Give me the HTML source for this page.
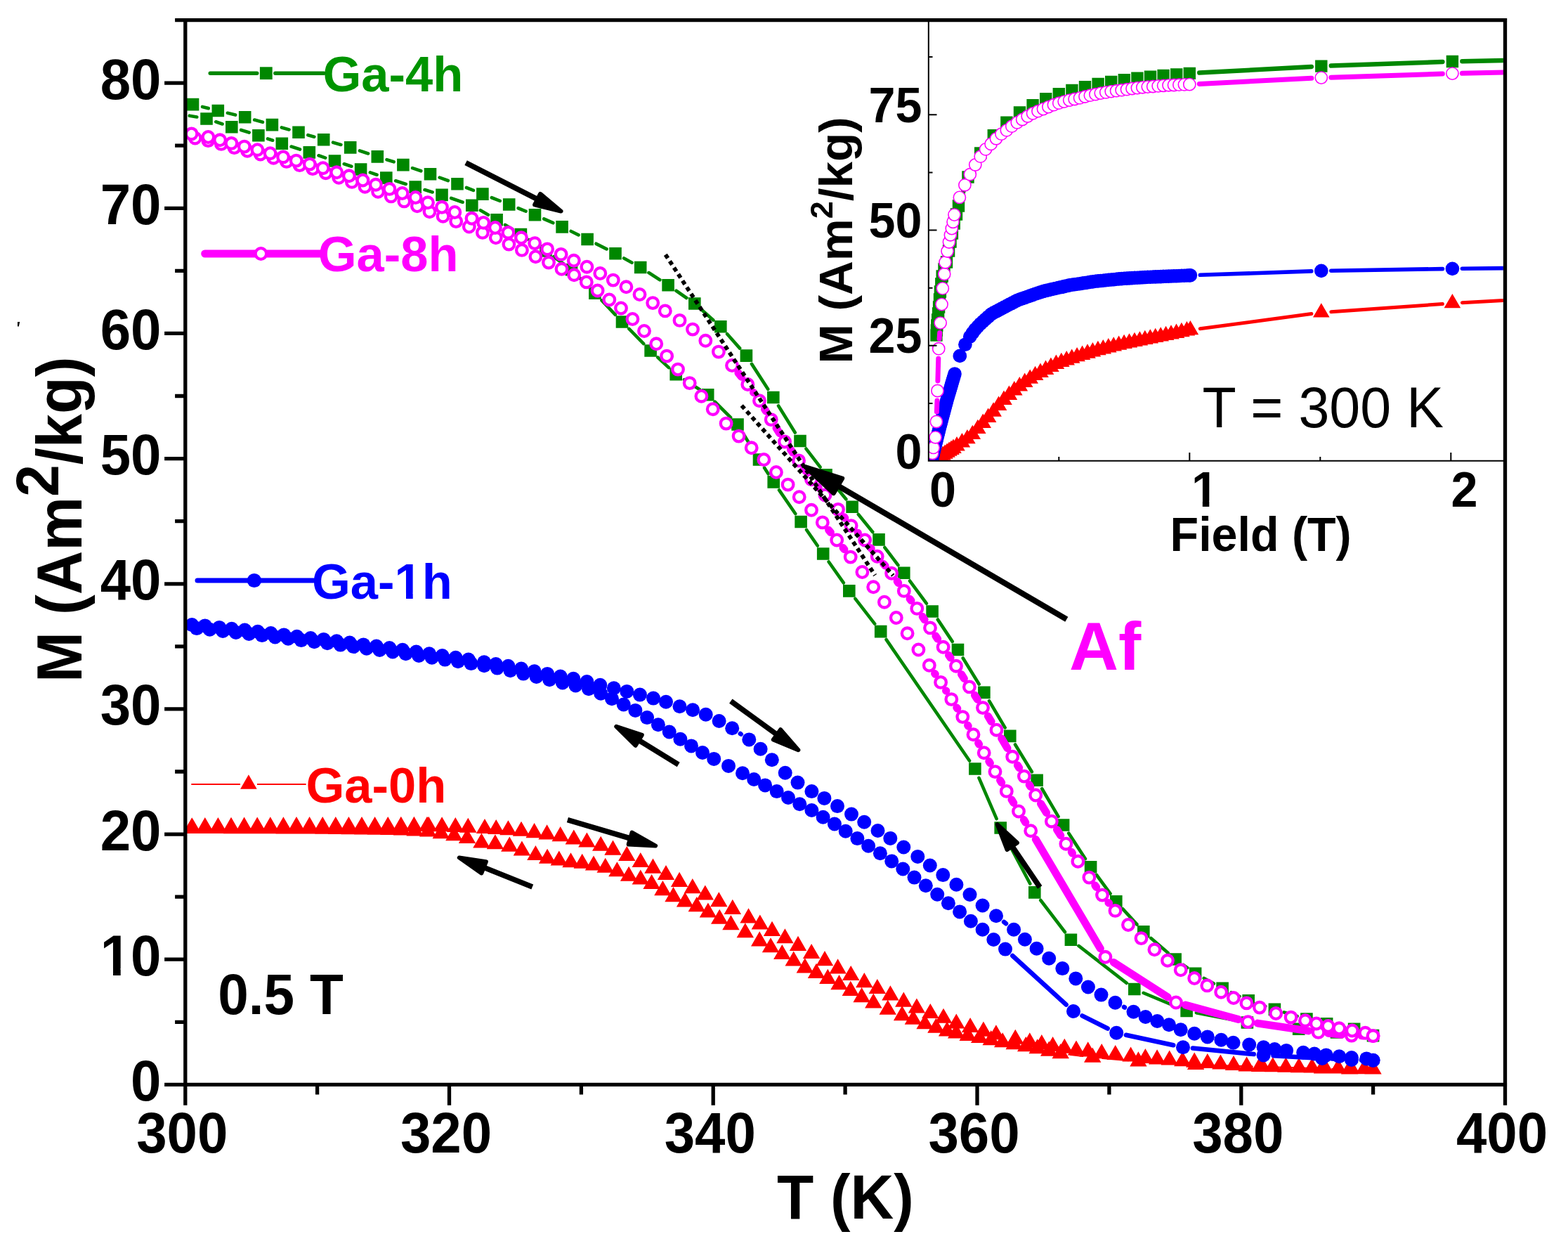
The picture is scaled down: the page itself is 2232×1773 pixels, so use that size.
<!DOCTYPE html>
<html><head><meta charset="utf-8"><title>M vs T</title><style>html,body{margin:0;padding:0;background:#fff;overflow:hidden}svg{display:block}</style></head><body>
<svg xmlns="http://www.w3.org/2000/svg" width="2232" height="1773" viewBox="0 0 2232 1773">
<rect width="2232" height="1773" fill="#fff"/>
<defs><clipPath id="cm"><rect x="263.8" y="28.7" width="1878.8" height="1514.7"/></clipPath><clipPath id="ci"><rect x="1321.3" y="31.3" width="818.6" height="624.4"/></clipPath></defs>
<g clip-path="url(#cm)">
<path d="M1940.5 1521.5L1935.1 1521.5M1907.1 1521.2L1896.1 1520.9M1868.1 1520.1L1810.8 1518.3M1782.8 1517.4L1716.1 1515.4M1688.1 1514.2L1634.4 1511.2M1606.5 1509.2L1569.1 1505.9M1541.3 1503L1523.6 1500.9" stroke="#ff0000" stroke-width="2" stroke-linecap="round" fill="none"/>
<path d="M273.2 1163.2l12.2 21.1h-24.4zM291.8 1163.1l12.2 21.1h-24.4zM310.4 1162.9l12.2 21.1h-24.4zM329 1162.8l12.2 21.1h-24.4zM347.6 1162.6l12.2 21.1h-24.4zM366.2 1162.5l12.2 21.1h-24.4zM384.8 1162.3l12.2 21.1h-24.4zM403.4 1162.2l12.2 21.1h-24.4zM422 1162.1l12.2 21.1h-24.4zM440.6 1162.1l12.2 21.1h-24.4zM459.2 1162l12.2 21.1h-24.4zM477.8 1162l12.2 21.1h-24.4zM496.4 1161.9l12.2 21.1h-24.4zM515 1161.9l12.2 21.1h-24.4zM533.6 1161.9l12.2 21.1h-24.4zM552.2 1161.9l12.2 21.1h-24.4zM570.8 1161.8l12.2 21.1h-24.4zM589.4 1161.8l12.2 21.1h-24.4zM608 1161.8l12.2 21.1h-24.4zM610.2 1161.8l12.2 21.1h-24.4zM629.1 1162.2l12.2 21.1h-24.4zM648.3 1162.9l12.2 21.1h-24.4zM666.3 1163.7l12.2 21.1h-24.4zM690 1165l12.2 21.1h-24.4zM706.2 1165.9l12.2 21.1h-24.4zM723.4 1167.2l12.2 21.1h-24.4zM742 1168.7l12.2 21.1h-24.4zM760.6 1171.1l12.2 21.1h-24.4zM778.6 1173.3l12.2 21.1h-24.4zM797.7 1176.1l12.2 21.1h-24.4zM816.8 1180.4l12.2 21.1h-24.4zM835.4 1184.5l12.2 21.1h-24.4zM855.2 1189.7l12.2 21.1h-24.4zM872.5 1195.6l12.2 21.1h-24.4zM892.3 1204l12.2 21.1h-24.4zM911.8 1212.9l12.2 21.1h-24.4zM929.5 1221.6l12.2 21.1h-24.4zM948 1230.9l12.2 21.1h-24.4zM967.1 1240.8l12.2 21.1h-24.4zM985.8 1250.1l12.2 21.1h-24.4zM1003.8 1259.4l12.2 21.1h-24.4zM1023.3 1269.2l12.2 21.1h-24.4zM1042.8 1279.8l12.2 21.1h-24.4zM1065.5 1292.3l12.2 21.1h-24.4zM1081.8 1301.5l12.2 21.1h-24.4zM1099 1310.8l12.2 21.1h-24.4zM1117.4 1321.2l12.2 21.1h-24.4zM1136 1331.8l12.2 21.1h-24.4zM1155.1 1342.9l12.2 21.1h-24.4zM1174 1353.1l12.2 21.1h-24.4zM1192.6 1364.3l12.2 21.1h-24.4zM1211.2 1373.9l12.2 21.1h-24.4zM1230.3 1384.1l12.2 21.1h-24.4zM1248.8 1393l12.2 21.1h-24.4zM1267.4 1402.3l12.2 21.1h-24.4zM1286.3 1411.6l12.2 21.1h-24.4zM1304.9 1420.4l12.2 21.1h-24.4zM1324.3 1427.9l12.2 21.1h-24.4zM1343 1434.7l12.2 21.1h-24.4zM1361.3 1442.4l12.2 21.1h-24.4zM1381.1 1448l12.2 21.1h-24.4zM1399.9 1453.6l12.2 21.1h-24.4zM1417.9 1458.2l12.2 21.1h-24.4zM1445.3 1464.7l12.2 21.1h-24.4zM1465.8 1469.3l12.2 21.1h-24.4zM1482.8 1472.1l12.2 21.1h-24.4zM1498.6 1474.9l12.2 21.1h-24.4zM1515.3 1477.7l12.2 21.1h-24.4zM1532 1480.5l12.2 21.1h-24.4zM1548.7 1482.3l12.2 21.1h-24.4zM1568.2 1485.1l12.2 21.1h-24.4zM1587.7 1487l12.2 21.1h-24.4zM1609.6 1489.4l12.2 21.1h-24.4zM1630.4 1491.9l12.2 21.1h-24.4zM1647.1 1493.3l12.2 21.1h-24.4zM1664.7 1494.5l12.2 21.1h-24.4zM1683.3 1496.2l12.2 21.1h-24.4zM1700.2 1497.6l12.2 21.1h-24.4zM1718.8 1499l12.2 21.1h-24.4zM1737.4 1500.5l12.2 21.1h-24.4zM1756 1501.9l12.2 21.1h-24.4zM1774.6 1503.4l12.2 21.1h-24.4zM1793.2 1503.8l12.2 21.1h-24.4zM1811.8 1504.2l12.2 21.1h-24.4zM1830.4 1504.6l12.2 21.1h-24.4zM1849 1505.1l12.2 21.1h-24.4zM1867.6 1505.5l12.2 21.1h-24.4zM1886.2 1505.9l12.2 21.1h-24.4zM1904.8 1506.3l12.2 21.1h-24.4zM1923.4 1506.7l12.2 21.1h-24.4zM1942 1507.1l12.2 21.1h-24.4zM1954.5 1507.4l12.2 21.1h-24.4zM1954.5 1507.4l12.2 21.1h-24.4zM1921.1 1507.4l12.2 21.1h-24.4zM1882.1 1506.5l12.2 21.1h-24.4zM1796.8 1503.7l12.2 21.1h-24.4zM1702.1 1500.9l12.2 21.1h-24.4zM1620.4 1496.3l12.2 21.1h-24.4zM1555.2 1490.6l12.2 21.1h-24.4zM1509.7 1485.1l12.2 21.1h-24.4zM1493.2 1481.6l12.2 21.1h-24.4zM1476.7 1478.2l12.2 21.1h-24.4zM1460.2 1475.1l12.2 21.1h-24.4zM1443.7 1472.2l12.2 21.1h-24.4zM1427.2 1469.2l12.2 21.1h-24.4zM1410.7 1466.1l12.2 21.1h-24.4zM1394.2 1463l12.2 21.1h-24.4zM1377.7 1459.8l12.2 21.1h-24.4zM1361.2 1456.3l12.2 21.1h-24.4zM1348.1 1453.4l12.2 21.1h-24.4zM1332.4 1448.7l12.2 21.1h-24.4zM1316.6 1443.2l12.2 21.1h-24.4zM1299.9 1436.7l12.2 21.1h-24.4zM1284.1 1431.1l12.2 21.1h-24.4zM1263.7 1422.7l12.2 21.1h-24.4zM1243.3 1413.5l12.2 21.1h-24.4zM1226.6 1405.1l12.2 21.1h-24.4zM1210.8 1395.8l12.2 21.1h-24.4zM1194.5 1387.1l12.2 21.1h-24.4zM1178.3 1378.8l12.2 21.1h-24.4zM1162 1370.8l12.2 21.1h-24.4zM1145.8 1363.3l12.2 21.1h-24.4zM1129.7 1353.5l12.2 21.1h-24.4zM1113.3 1343.9l12.2 21.1h-24.4zM1097 1334.2l12.2 21.1h-24.4zM1081.2 1325.3l12.2 21.1h-24.4zM1060.8 1313.2l12.2 21.1h-24.4zM1040.4 1302.1l12.2 21.1h-24.4zM1024.2 1293.7l12.2 21.1h-24.4zM1007.9 1284.5l12.2 21.1h-24.4zM991.8 1276.1l12.2 21.1h-24.4zM975.1 1269.4l12.2 21.1h-24.4zM958.5 1262.1l12.2 21.1h-24.4zM943.4 1253.1l12.2 21.1h-24.4zM927.6 1243.9l12.2 21.1h-24.4zM911.8 1237.4l12.2 21.1h-24.4zM895.1 1232.7l12.2 21.1h-24.4zM878.4 1226.2l12.2 21.1h-24.4zM861.7 1220.7l12.2 21.1h-24.4zM845 1217.5l12.2 21.1h-24.4zM828.7 1214.7l12.2 21.1h-24.4zM812.5 1213.2l12.2 21.1h-24.4zM795.8 1210.5l12.2 21.1h-24.4zM779.1 1207.7l12.2 21.1h-24.4zM762.4 1203l12.2 21.1h-24.4zM742.9 1196.5l12.2 21.1h-24.4zM725.3 1190.6l12.2 21.1h-24.4zM704.9 1187.2l12.2 21.1h-24.4zM685.4 1185.4l12.2 21.1h-24.4zM665 1178.9l12.2 21.1h-24.4zM646.4 1175.2l12.2 21.1h-24.4zM627.8 1172.1l12.2 21.1h-24.4zM609.2 1169.4l12.2 21.1h-24.4zM590.6 1168.4l12.2 21.1h-24.4zM572 1167.5l12.2 21.1h-24.4zM553.4 1166.8l12.2 21.1h-24.4zM534.8 1166.6l12.2 21.1h-24.4zM516.2 1166.3l12.2 21.1h-24.4zM497.6 1166.1l12.2 21.1h-24.4zM479 1165.8l12.2 21.1h-24.4zM460.4 1165.6l12.2 21.1h-24.4zM441.8 1165.4l12.2 21.1h-24.4zM423.2 1165.3l12.2 21.1h-24.4zM404.6 1165.3l12.2 21.1h-24.4zM386 1165.2l12.2 21.1h-24.4zM367.4 1165.2l12.2 21.1h-24.4zM348.8 1165.1l12.2 21.1h-24.4zM330.2 1165.1l12.2 21.1h-24.4zM311.6 1165l12.2 21.1h-24.4zM293 1164.9l12.2 21.1h-24.4zM274.4 1164.9l12.2 21.1h-24.4z" fill="#ff0000"/>
<path d="M1053.8 1044L1054.7 1044.6M1429.1 1311.9L1432 1314.2M1600 1433L1601 1433.5" stroke="#0000ff" stroke-width="6.5" stroke-linecap="round" fill="none"/>
<path d="M1940.5 1508.4L1937.9 1508.3M1909.9 1507.3L1896.1 1506.6M1868.1 1505.2L1812.6 1502.2M1784.7 1500.1L1697.9 1491.6M1670.3 1487.3L1602.9 1472.8M1576.7 1463.5L1540.5 1445.3M1517.7 1429.6L1441.3 1360" stroke="#0000ff" stroke-width="6.5" stroke-linecap="round" fill="none"/>
<circle cx="273.2" cy="889.1" r="10" fill="#0000ff"/>
<circle cx="291.8" cy="890.4" r="10" fill="#0000ff"/>
<circle cx="312.2" cy="892.9" r="10" fill="#0000ff"/>
<circle cx="329.8" cy="894.7" r="10" fill="#0000ff"/>
<circle cx="348.4" cy="896.6" r="10" fill="#0000ff"/>
<circle cx="366.9" cy="898.8" r="10" fill="#0000ff"/>
<circle cx="385.5" cy="901" r="10" fill="#0000ff"/>
<circle cx="404.1" cy="903.4" r="10" fill="#0000ff"/>
<circle cx="422.6" cy="905.7" r="10" fill="#0000ff"/>
<circle cx="442.1" cy="908.1" r="10" fill="#0000ff"/>
<circle cx="460.7" cy="909.9" r="10" fill="#0000ff"/>
<circle cx="479.2" cy="912.2" r="10" fill="#0000ff"/>
<circle cx="497.8" cy="914.6" r="10" fill="#0000ff"/>
<circle cx="517.3" cy="917.4" r="10" fill="#0000ff"/>
<circle cx="535.8" cy="919.6" r="10" fill="#0000ff"/>
<circle cx="554.4" cy="922" r="10" fill="#0000ff"/>
<circle cx="573" cy="924.8" r="10" fill="#0000ff"/>
<circle cx="592.5" cy="927.6" r="10" fill="#0000ff"/>
<circle cx="611" cy="930.3" r="10" fill="#0000ff"/>
<circle cx="629.6" cy="933.1" r="10" fill="#0000ff"/>
<circle cx="648.6" cy="935.8" r="10" fill="#0000ff"/>
<circle cx="666.8" cy="938.5" r="10" fill="#0000ff"/>
<circle cx="689.1" cy="942.2" r="10" fill="#0000ff"/>
<circle cx="705.8" cy="945" r="10" fill="#0000ff"/>
<circle cx="723.4" cy="947.7" r="10" fill="#0000ff"/>
<circle cx="742" cy="951.5" r="10" fill="#0000ff"/>
<circle cx="760.6" cy="955.2" r="10" fill="#0000ff"/>
<circle cx="779.1" cy="958.9" r="10" fill="#0000ff"/>
<circle cx="797.7" cy="962.6" r="10" fill="#0000ff"/>
<circle cx="816.2" cy="965.8" r="10" fill="#0000ff"/>
<circle cx="835.4" cy="970" r="10" fill="#0000ff"/>
<circle cx="854.3" cy="974.7" r="10" fill="#0000ff"/>
<circle cx="873.8" cy="979.3" r="10" fill="#0000ff"/>
<circle cx="892.3" cy="983.9" r="10" fill="#0000ff"/>
<circle cx="910.9" cy="988.6" r="10" fill="#0000ff"/>
<circle cx="930" cy="993.6" r="10" fill="#0000ff"/>
<circle cx="948" cy="998.8" r="10" fill="#0000ff"/>
<circle cx="967.5" cy="1005.3" r="10" fill="#0000ff"/>
<circle cx="986.1" cy="1010.3" r="10" fill="#0000ff"/>
<circle cx="1004.7" cy="1016.8" r="10" fill="#0000ff"/>
<circle cx="1023.6" cy="1026" r="10" fill="#0000ff"/>
<circle cx="1042.2" cy="1036.2" r="10" fill="#0000ff"/>
<circle cx="1066.3" cy="1052.4" r="10" fill="#0000ff"/>
<circle cx="1082.6" cy="1065.8" r="10" fill="#0000ff"/>
<circle cx="1098.8" cy="1081.2" r="10" fill="#0000ff"/>
<circle cx="1117.7" cy="1099.7" r="10" fill="#0000ff"/>
<circle cx="1135.5" cy="1113.6" r="10" fill="#0000ff"/>
<circle cx="1155.4" cy="1126.1" r="10" fill="#0000ff"/>
<circle cx="1173.4" cy="1135.9" r="10" fill="#0000ff"/>
<circle cx="1192" cy="1147.1" r="10" fill="#0000ff"/>
<circle cx="1212" cy="1158.6" r="10" fill="#0000ff"/>
<circle cx="1230.2" cy="1169.7" r="10" fill="#0000ff"/>
<circle cx="1249.5" cy="1182" r="10" fill="#0000ff"/>
<circle cx="1267.3" cy="1192.9" r="10" fill="#0000ff"/>
<circle cx="1286.3" cy="1205.5" r="10" fill="#0000ff"/>
<circle cx="1306.3" cy="1218.9" r="10" fill="#0000ff"/>
<circle cx="1323.8" cy="1231.5" r="10" fill="#0000ff"/>
<circle cx="1342.3" cy="1245.1" r="10" fill="#0000ff"/>
<circle cx="1361.4" cy="1258.8" r="10" fill="#0000ff"/>
<circle cx="1380.5" cy="1273" r="10" fill="#0000ff"/>
<circle cx="1398.6" cy="1288.5" r="10" fill="#0000ff"/>
<circle cx="1418" cy="1303.3" r="10" fill="#0000ff"/>
<circle cx="1443.1" cy="1322.8" r="10" fill="#0000ff"/>
<circle cx="1458.9" cy="1336.8" r="10" fill="#0000ff"/>
<circle cx="1475.6" cy="1349.7" r="10" fill="#0000ff"/>
<circle cx="1493.2" cy="1363.7" r="10" fill="#0000ff"/>
<circle cx="1512.3" cy="1378.1" r="10" fill="#0000ff"/>
<circle cx="1531.3" cy="1392.4" r="10" fill="#0000ff"/>
<circle cx="1548.9" cy="1404.5" r="10" fill="#0000ff"/>
<circle cx="1567.5" cy="1415.6" r="10" fill="#0000ff"/>
<circle cx="1587.5" cy="1426.8" r="10" fill="#0000ff"/>
<circle cx="1613.5" cy="1439.7" r="10" fill="#0000ff"/>
<circle cx="1630.6" cy="1447" r="10" fill="#0000ff"/>
<circle cx="1647.3" cy="1453" r="10" fill="#0000ff"/>
<circle cx="1664" cy="1458.3" r="10" fill="#0000ff"/>
<circle cx="1680.7" cy="1465.2" r="10" fill="#0000ff"/>
<circle cx="1700.2" cy="1470.8" r="10" fill="#0000ff"/>
<circle cx="1718.8" cy="1475.4" r="10" fill="#0000ff"/>
<circle cx="1738.3" cy="1479.7" r="10" fill="#0000ff"/>
<circle cx="1755.5" cy="1483.8" r="10" fill="#0000ff"/>
<circle cx="1778.2" cy="1486.5" r="10" fill="#0000ff"/>
<circle cx="1798.6" cy="1490.3" r="10" fill="#0000ff"/>
<circle cx="1814.4" cy="1493" r="10" fill="#0000ff"/>
<circle cx="1831.1" cy="1494.9" r="10" fill="#0000ff"/>
<circle cx="1855.2" cy="1497.7" r="10" fill="#0000ff"/>
<circle cx="1871" cy="1499.5" r="10" fill="#0000ff"/>
<circle cx="1887.7" cy="1501.4" r="10" fill="#0000ff"/>
<circle cx="1906.3" cy="1503.2" r="10" fill="#0000ff"/>
<circle cx="1923.9" cy="1505.1" r="10" fill="#0000ff"/>
<circle cx="1945.2" cy="1506.4" r="10" fill="#0000ff"/>
<circle cx="1954.5" cy="1508.8" r="10" fill="#0000ff"/>
<circle cx="1954.5" cy="1508.8" r="10" fill="#0000ff"/>
<circle cx="1923.9" cy="1507.9" r="10" fill="#0000ff"/>
<circle cx="1882.1" cy="1506" r="10" fill="#0000ff"/>
<circle cx="1798.6" cy="1501.4" r="10" fill="#0000ff"/>
<circle cx="1684" cy="1490.3" r="10" fill="#0000ff"/>
<circle cx="1589.2" cy="1469.8" r="10" fill="#0000ff"/>
<circle cx="1528" cy="1439" r="10" fill="#0000ff"/>
<circle cx="1431" cy="1350.6" r="10" fill="#0000ff"/>
<circle cx="1414.3" cy="1337" r="10" fill="#0000ff"/>
<circle cx="1398.6" cy="1322.8" r="10" fill="#0000ff"/>
<circle cx="1381.9" cy="1310.8" r="10" fill="#0000ff"/>
<circle cx="1366.1" cy="1297.4" r="10" fill="#0000ff"/>
<circle cx="1349.9" cy="1285.3" r="10" fill="#0000ff"/>
<circle cx="1334.2" cy="1272.7" r="10" fill="#0000ff"/>
<circle cx="1317.8" cy="1260.3" r="10" fill="#0000ff"/>
<circle cx="1301.5" cy="1248.6" r="10" fill="#0000ff"/>
<circle cx="1285.3" cy="1236.5" r="10" fill="#0000ff"/>
<circle cx="1269.2" cy="1225.4" r="10" fill="#0000ff"/>
<circle cx="1252.9" cy="1214.2" r="10" fill="#0000ff"/>
<circle cx="1236.1" cy="1203.7" r="10" fill="#0000ff"/>
<circle cx="1220.4" cy="1193.1" r="10" fill="#0000ff"/>
<circle cx="1203.7" cy="1182.7" r="10" fill="#0000ff"/>
<circle cx="1187.9" cy="1172.5" r="10" fill="#0000ff"/>
<circle cx="1171.6" cy="1162.8" r="10" fill="#0000ff"/>
<circle cx="1155.4" cy="1153" r="10" fill="#0000ff"/>
<circle cx="1138.3" cy="1144.3" r="10" fill="#0000ff"/>
<circle cx="1122" cy="1135" r="10" fill="#0000ff"/>
<circle cx="1105.7" cy="1126.1" r="10" fill="#0000ff"/>
<circle cx="1089.1" cy="1117.4" r="10" fill="#0000ff"/>
<circle cx="1073.2" cy="1109" r="10" fill="#0000ff"/>
<circle cx="1057" cy="1100.3" r="10" fill="#0000ff"/>
<circle cx="1037" cy="1089.9" r="10" fill="#0000ff"/>
<circle cx="1016.2" cy="1079.9" r="10" fill="#0000ff"/>
<circle cx="1000" cy="1071" r="10" fill="#0000ff"/>
<circle cx="984" cy="1061.4" r="10" fill="#0000ff"/>
<circle cx="968.4" cy="1051.7" r="10" fill="#0000ff"/>
<circle cx="952.7" cy="1041.5" r="10" fill="#0000ff"/>
<circle cx="936.9" cy="1031.3" r="10" fill="#0000ff"/>
<circle cx="921.1" cy="1021.1" r="10" fill="#0000ff"/>
<circle cx="904.4" cy="1010.9" r="10" fill="#0000ff"/>
<circle cx="887.7" cy="1002.5" r="10" fill="#0000ff"/>
<circle cx="871" cy="994.2" r="10" fill="#0000ff"/>
<circle cx="855.2" cy="986.7" r="10" fill="#0000ff"/>
<circle cx="838" cy="980.2" r="10" fill="#0000ff"/>
<circle cx="819.4" cy="975.4" r="10" fill="#0000ff"/>
<circle cx="800.8" cy="971.4" r="10" fill="#0000ff"/>
<circle cx="782.2" cy="967.2" r="10" fill="#0000ff"/>
<circle cx="763.6" cy="962.9" r="10" fill="#0000ff"/>
<circle cx="745" cy="958.6" r="10" fill="#0000ff"/>
<circle cx="726.4" cy="954.2" r="10" fill="#0000ff"/>
<circle cx="707.8" cy="950.6" r="10" fill="#0000ff"/>
<circle cx="689.2" cy="947.2" r="10" fill="#0000ff"/>
<circle cx="670.6" cy="944.1" r="10" fill="#0000ff"/>
<circle cx="652" cy="941.2" r="10" fill="#0000ff"/>
<circle cx="633.4" cy="938.6" r="10" fill="#0000ff"/>
<circle cx="614.8" cy="935.8" r="10" fill="#0000ff"/>
<circle cx="596.2" cy="933" r="10" fill="#0000ff"/>
<circle cx="577.6" cy="930.3" r="10" fill="#0000ff"/>
<circle cx="559" cy="927.5" r="10" fill="#0000ff"/>
<circle cx="540.4" cy="925" r="10" fill="#0000ff"/>
<circle cx="521.8" cy="922.7" r="10" fill="#0000ff"/>
<circle cx="503.2" cy="920.1" r="10" fill="#0000ff"/>
<circle cx="484.6" cy="917.6" r="10" fill="#0000ff"/>
<circle cx="466" cy="915.3" r="10" fill="#0000ff"/>
<circle cx="447.4" cy="913.3" r="10" fill="#0000ff"/>
<circle cx="428.8" cy="911.1" r="10" fill="#0000ff"/>
<circle cx="410.2" cy="908.8" r="10" fill="#0000ff"/>
<circle cx="391.6" cy="906.4" r="10" fill="#0000ff"/>
<circle cx="373" cy="904.1" r="10" fill="#0000ff"/>
<circle cx="354.4" cy="901.9" r="10" fill="#0000ff"/>
<circle cx="335.8" cy="899.9" r="10" fill="#0000ff"/>
<circle cx="317.2" cy="898" r="10" fill="#0000ff"/>
<circle cx="298.6" cy="895.8" r="10" fill="#0000ff"/>
<circle cx="280" cy="894.1" r="10" fill="#0000ff"/>
<path d="M288.1 152L296.7 154.1M323.9 160.8L335.1 163.5M362.2 170.6L373.9 173.8M400.9 181.4L411.5 184.4M438.4 192.2L447.3 194.7M474.1 202.7L485.3 205.9M512 214.4L524 218.4M550.6 227.2L560.6 230.3M587.1 239.1L599.3 243.3M625.7 252.6L637.8 257M664 267L673.9 270.9M699.9 281.2L711.7 285.9M737.7 296.2L748.5 300.6M774.3 311.5L787.3 317.2M812.7 329L823.5 334.4M848.6 346.8L863.5 354.4M888.2 367.5L899.5 373.7M923.5 388.1L939.3 398.2M962.6 413.8L977.3 424M999.3 441.3L1015.3 455.4M1035.1 475.2L1053.1 495.6M1070 517.9L1093.2 553.7M1108.1 577.4L1131.7 615.6M1147.5 638.6L1167.5 664.6M1184.8 686.6L1204.3 710.3M1221.9 732.1L1242.2 757M1259.4 779.1L1278.4 804.1M1295.1 826.6L1318.8 858.7M1334.9 881.6L1355.7 912.9M1370.8 936.4L1393.6 973.5M1408.1 997.4L1430.6 1035.4M1445.1 1059.4L1468.8 1098.2M1483.2 1122.3L1506.5 1161.9M1521.3 1185.7L1544.9 1222M1560.9 1245L1580.5 1271.6M1598.2 1293.3L1618.4 1315.4M1638.4 1335L1662.5 1355.8M1684.5 1373.1L1690.2 1377.1M1713.9 1392L1727.8 1399.6M1752.8 1412.3L1764.5 1417.8M1790.4 1428.2L1801.2 1431.9M1827.8 1440.4L1846.5 1446M1873.5 1453.2L1875 1453.6M1902.3 1459.4L1913.9 1461.7M1940.8 1468.9L1941.3 1469" stroke="#008700" stroke-width="4.7" stroke-linecap="round" fill="none"/>
<path d="M1940.6 1472.3L1916.4 1470.2M1888.6 1467.7L1862.6 1465.5M1834.8 1462.5L1789.3 1456.8M1761.6 1452.4L1702.9 1441.1M1676.2 1433.1L1627.7 1412.9M1603.7 1398.9L1535.5 1345.9M1515.9 1326.2L1481.3 1281M1466.3 1257.5L1430.7 1190.4M1418.6 1165.1L1393.5 1106.9M1380 1082.5L1261.6 910.1M1245.1 887.6L1217.4 851.9M1200.8 829.4L1179.7 799.5M1163.7 776.5L1148.1 754M1132.2 731L1109.1 697.4M1093.6 674.2L1088.1 665.7M1073.2 642L1057.3 616M1040.1 594.1L1017.6 571.7M995.9 554.2L974 540.2M952 523.1L936.3 508.5M916.2 489.1L895.4 467.9M875.9 447.8L856.5 427.4M837 407.3L823.4 393.7M802.2 375.5L788.3 365.3M765.3 349.3L753.1 341.3M729.4 326.3L719.1 320M695 305.7L683.9 299.3M658.6 287.7L642.2 282M615.6 273.4L604.6 270.1M577.8 261.9L563.2 257.3M536.5 248.7L526.9 245.4M500.3 236.7L489.8 233.3M463.2 224.6L453.6 221.3M427 212.6L414.6 208.6M388.1 199.7L381.1 197.4M354.6 188.6L343.1 184.9M316.5 176.4L307.3 173.3M280.2 166.5L269.8 164.7" stroke="#008700" stroke-width="4.7" stroke-linecap="round" fill="none"/>
<path d="M265.7 139.8h17.6v17.6h-17.6zM301.5 148.7h17.6v17.6h-17.6zM339.9 158h17.6v17.6h-17.6zM378.6 168.8h17.6v17.6h-17.6zM416.2 179.4h17.6v17.6h-17.6zM451.9 189.9h17.6v17.6h-17.6zM489.9 201.1h17.6v17.6h-17.6zM528.5 214.1h17.6v17.6h-17.6zM565.1 225.8h17.6v17.6h-17.6zM603.7 239h17.6v17.6h-17.6zM642.2 253h17.6v17.6h-17.6zM678.1 267.3h17.6v17.6h-17.6zM715.9 282.2h17.6v17.6h-17.6zM752.7 297h17.6v17.6h-17.6zM791.3 314.1h17.6v17.6h-17.6zM827.3 331.7h17.6v17.6h-17.6zM867.2 351.9h17.6v17.6h-17.6zM902.9 371.7h17.6v17.6h-17.6zM942.3 397h17.6v17.6h-17.6zM980 423.2h17.6v17.6h-17.6zM1017 455.9h17.6v17.6h-17.6zM1053.6 497.3h17.6v17.6h-17.6zM1092 556.7h17.6v17.6h-17.6zM1130.2 618.7h17.6v17.6h-17.6zM1167.2 666.9h17.6v17.6h-17.6zM1204.3 712.4h17.6v17.6h-17.6zM1242.2 759.1h17.6v17.6h-17.6zM1278 806.5h17.6v17.6h-17.6zM1318.3 861.2h17.6v17.6h-17.6zM1354.7 915.7h17.6v17.6h-17.6zM1392.1 976.6h17.6v17.6h-17.6zM1429 1038.6h17.6v17.6h-17.6zM1467.3 1101.4h17.6v17.6h-17.6zM1504.8 1165.2h17.6v17.6h-17.6zM1543.8 1224.9h17.6v17.6h-17.6zM1580 1274.1h17.6v17.6h-17.6zM1619 1317h17.6v17.6h-17.6zM1664.3 1356.2h17.6v17.6h-17.6zM1692.8 1376.4h17.6v17.6h-17.6zM1731.3 1397.6h17.6v17.6h-17.6zM1768.4 1414.9h17.6v17.6h-17.6zM1805.6 1427.6h17.6v17.6h-17.6zM1851.1 1441.2h17.6v17.6h-17.6zM1879.8 1448h17.6v17.6h-17.6zM1918.8 1455.5h17.6v17.6h-17.6zM1945.7 1464.8h17.6v17.6h-17.6zM1945.7 1464.8h17.6v17.6h-17.6zM1893.7 1460.1h17.6v17.6h-17.6zM1839.9 1455.5h17.6v17.6h-17.6zM1766.6 1446.2h17.6v17.6h-17.6zM1680.3 1429.7h17.6v17.6h-17.6zM1606 1398.7h17.6v17.6h-17.6zM1515.6 1328.5h17.6v17.6h-17.6zM1464 1261.1h17.6v17.6h-17.6zM1415.4 1169.2h17.6v17.6h-17.6zM1379.1 1085.2h17.6v17.6h-17.6zM1244.9 889.8h17.6v17.6h-17.6zM1200 832.1h17.6v17.6h-17.6zM1162.9 779.2h17.6v17.6h-17.6zM1131.3 733.7h17.6v17.6h-17.6zM1092.4 677.1h17.6v17.6h-17.6zM1071.7 645.2h17.6v17.6h-17.6zM1041.2 595.2h17.6v17.6h-17.6zM998.9 553h17.6v17.6h-17.6zM953.4 523.8h17.6v17.6h-17.6zM917.3 490.2h17.6v17.6h-17.6zM876.7 449.2h17.6v17.6h-17.6zM838.1 408.4h17.6v17.6h-17.6zM804.7 375h17.6v17.6h-17.6zM768.2 348.2h17.6v17.6h-17.6zM732.6 324.8h17.6v17.6h-17.6zM698.3 303.9h17.6v17.6h-17.6zM663 283.5h17.6v17.6h-17.6zM620.2 268.6h17.6v17.6h-17.6zM582.4 257.3h17.6v17.6h-17.6zM541 244.3h17.6v17.6h-17.6zM504.8 232.2h17.6v17.6h-17.6zM467.7 220.2h17.6v17.6h-17.6zM431.5 208.1h17.6v17.6h-17.6zM392.5 195.5h17.6v17.6h-17.6zM359.1 184h17.6v17.6h-17.6zM321 171.9h17.6v17.6h-17.6zM285.2 160.2h17.6v17.6h-17.6zM247.2 153.4h17.6v17.6h-17.6z" fill="#008700"/>
<path d="M1050.9 530.8L1055.4 536.2M1072.5 558.4L1072.8 558.8M1088.4 582.1L1090.3 585.2M1105 609L1109.7 616.6M1125.4 639.7L1128.6 644.2M1144.8 667L1147.2 670.6M1164.2 692.7L1165.3 694M1201.8 735.8L1202.8 737.2M1221.3 758.2L1221.4 758.4M1239.6 779.7L1240.2 780.5M1257.7 802.4L1260.1 805.1M1277.2 827.2L1278.7 829.5M1295.1 852.2L1297 854.6M1313.2 877.5L1316.1 881.8M1331.9 905L1334.7 909.2M1350.5 932.4L1353.1 936.1M1368.5 959.5L1372.4 965.6M1387.5 989.2L1391.4 995.3M1406.4 1019L1411.1 1026.8M1425.7 1050.7L1434 1064.8M1448.4 1088.8L1450.7 1092.6M1465.2 1116.6L1466.9 1119.5M1481.5 1143.5L1489.6 1156.7M1504.5 1180.5L1509.8 1188.9M1525.3 1212.3L1526.5 1214.2M1558.8 1259.8L1560.6 1262.4M1577.9 1284.4L1578.6 1285.1" stroke="#ff00ff" stroke-width="11" stroke-linecap="round" fill="none"/>
<path d="M1940.5 1473.9L1937.9 1473.8M1910 1472.2L1890.5 1470.3M1862.7 1466.9L1790.2 1456.1M1762.8 1450.5L1687.5 1430.1M1662.2 1418.9L1585.2 1369.4M1566.3 1349.7L1474.3 1194.3M1459.8 1170.3L1457.4 1166.4M1442.8 1142.5L1440 1137.9M1425.7 1113.8L1423.6 1110.2M1409.4 1086L1407.8 1083.3M1393.6 1059.1L1392.6 1057.3M1378.2 1033.2L1377.6 1032.1M1362.8 1008.3L1361.8 1006.9M1346.9 983.2L1346.5 982.8M1331.3 959.3L1330.6 958.4M1201.9 781.7L1200 779.4M1182.4 757.6L1179.6 754.3" stroke="#ff00ff" stroke-width="11" stroke-linecap="round" fill="none"/>
<circle cx="1954.5" cy="1474.1" r="7.8" fill="#fff" stroke="#ff00ff" stroke-width="4.3"/>
<circle cx="1923.9" cy="1473.6" r="7.8" fill="#fff" stroke="#ff00ff" stroke-width="4.3"/>
<circle cx="1876.6" cy="1468.9" r="7.8" fill="#fff" stroke="#ff00ff" stroke-width="4.3"/>
<circle cx="1776.3" cy="1454.1" r="7.8" fill="#fff" stroke="#ff00ff" stroke-width="4.3"/>
<circle cx="1674" cy="1426.5" r="7.8" fill="#fff" stroke="#ff00ff" stroke-width="4.3"/>
<circle cx="1573.4" cy="1361.8" r="7.8" fill="#fff" stroke="#ff00ff" stroke-width="4.3"/>
<circle cx="1467.2" cy="1182.2" r="7.8" fill="#fff" stroke="#ff00ff" stroke-width="4.3"/>
<circle cx="1450" cy="1154.5" r="7.8" fill="#fff" stroke="#ff00ff" stroke-width="4.3"/>
<circle cx="1432.8" cy="1125.9" r="7.8" fill="#fff" stroke="#ff00ff" stroke-width="4.3"/>
<circle cx="1416.5" cy="1098.1" r="7.8" fill="#fff" stroke="#ff00ff" stroke-width="4.3"/>
<circle cx="1400.7" cy="1071.2" r="7.8" fill="#fff" stroke="#ff00ff" stroke-width="4.3"/>
<circle cx="1385.5" cy="1045.2" r="7.8" fill="#fff" stroke="#ff00ff" stroke-width="4.3"/>
<circle cx="1370.3" cy="1020.1" r="7.8" fill="#fff" stroke="#ff00ff" stroke-width="4.3"/>
<circle cx="1354.3" cy="995.1" r="7.8" fill="#fff" stroke="#ff00ff" stroke-width="4.3"/>
<circle cx="1339.1" cy="970.9" r="7.8" fill="#fff" stroke="#ff00ff" stroke-width="4.3"/>
<circle cx="1322.8" cy="946.8" r="7.8" fill="#fff" stroke="#ff00ff" stroke-width="4.3"/>
<circle cx="1307.4" cy="924.5" r="7.8" fill="#fff" stroke="#ff00ff" stroke-width="4.3"/>
<circle cx="1291.6" cy="901.3" r="7.8" fill="#fff" stroke="#ff00ff" stroke-width="4.3"/>
<circle cx="1275.8" cy="879" r="7.8" fill="#fff" stroke="#ff00ff" stroke-width="4.3"/>
<circle cx="1258.9" cy="856.7" r="7.8" fill="#fff" stroke="#ff00ff" stroke-width="4.3"/>
<circle cx="1243.2" cy="835.3" r="7.8" fill="#fff" stroke="#ff00ff" stroke-width="4.3"/>
<circle cx="1227.4" cy="814" r="7.8" fill="#fff" stroke="#ff00ff" stroke-width="4.3"/>
<circle cx="1210.7" cy="792.6" r="7.8" fill="#fff" stroke="#ff00ff" stroke-width="4.3"/>
<circle cx="1191.2" cy="768.5" r="7.8" fill="#fff" stroke="#ff00ff" stroke-width="4.3"/>
<circle cx="1170.8" cy="743.4" r="7.8" fill="#fff" stroke="#ff00ff" stroke-width="4.3"/>
<circle cx="1155" cy="725.8" r="7.8" fill="#fff" stroke="#ff00ff" stroke-width="4.3"/>
<circle cx="1137.7" cy="707.2" r="7.8" fill="#fff" stroke="#ff00ff" stroke-width="4.3"/>
<circle cx="1121.6" cy="689.6" r="7.8" fill="#fff" stroke="#ff00ff" stroke-width="4.3"/>
<circle cx="1104.9" cy="672" r="7.8" fill="#fff" stroke="#ff00ff" stroke-width="4.3"/>
<circle cx="1087.3" cy="654" r="7.8" fill="#fff" stroke="#ff00ff" stroke-width="4.3"/>
<circle cx="1069.7" cy="637.3" r="7.8" fill="#fff" stroke="#ff00ff" stroke-width="4.3"/>
<circle cx="1051.6" cy="620.6" r="7.8" fill="#fff" stroke="#ff00ff" stroke-width="4.3"/>
<circle cx="1033.6" cy="602.6" r="7.8" fill="#fff" stroke="#ff00ff" stroke-width="4.3"/>
<circle cx="1014.7" cy="582.2" r="7.8" fill="#fff" stroke="#ff00ff" stroke-width="4.3"/>
<circle cx="998.4" cy="563.7" r="7.8" fill="#fff" stroke="#ff00ff" stroke-width="4.3"/>
<circle cx="981.7" cy="545.1" r="7.8" fill="#fff" stroke="#ff00ff" stroke-width="4.3"/>
<circle cx="965" cy="525.6" r="7.8" fill="#fff" stroke="#ff00ff" stroke-width="4.3"/>
<circle cx="949.1" cy="506.6" r="7.8" fill="#fff" stroke="#ff00ff" stroke-width="4.3"/>
<circle cx="934.2" cy="489.3" r="7.8" fill="#fff" stroke="#ff00ff" stroke-width="4.3"/>
<circle cx="917" cy="471" r="7.8" fill="#fff" stroke="#ff00ff" stroke-width="4.3"/>
<circle cx="900.4" cy="454" r="7.8" fill="#fff" stroke="#ff00ff" stroke-width="4.3"/>
<circle cx="884" cy="438.5" r="7.8" fill="#fff" stroke="#ff00ff" stroke-width="4.3"/>
<circle cx="867.3" cy="426.5" r="7.8" fill="#fff" stroke="#ff00ff" stroke-width="4.3"/>
<circle cx="850.6" cy="413.5" r="7.8" fill="#fff" stroke="#ff00ff" stroke-width="4.3"/>
<circle cx="834.8" cy="401.4" r="7.8" fill="#fff" stroke="#ff00ff" stroke-width="4.3"/>
<circle cx="817.2" cy="391.2" r="7.8" fill="#fff" stroke="#ff00ff" stroke-width="4.3"/>
<circle cx="799.5" cy="382.8" r="7.8" fill="#fff" stroke="#ff00ff" stroke-width="4.3"/>
<circle cx="781" cy="373.6" r="7.8" fill="#fff" stroke="#ff00ff" stroke-width="4.3"/>
<circle cx="762.4" cy="365.2" r="7.8" fill="#fff" stroke="#ff00ff" stroke-width="4.3"/>
<circle cx="742.9" cy="355.9" r="7.8" fill="#fff" stroke="#ff00ff" stroke-width="4.3"/>
<circle cx="724.4" cy="347.6" r="7.8" fill="#fff" stroke="#ff00ff" stroke-width="4.3"/>
<circle cx="705.8" cy="338.3" r="7.8" fill="#fff" stroke="#ff00ff" stroke-width="4.3"/>
<circle cx="686.9" cy="330.9" r="7.8" fill="#fff" stroke="#ff00ff" stroke-width="4.3"/>
<circle cx="667.8" cy="322.5" r="7.8" fill="#fff" stroke="#ff00ff" stroke-width="4.3"/>
<circle cx="649.2" cy="315.1" r="7.8" fill="#fff" stroke="#ff00ff" stroke-width="4.3"/>
<circle cx="630.6" cy="307.7" r="7.8" fill="#fff" stroke="#ff00ff" stroke-width="4.3"/>
<circle cx="611.5" cy="301.2" r="7.8" fill="#fff" stroke="#ff00ff" stroke-width="4.3"/>
<circle cx="593.9" cy="293.3" r="7.8" fill="#fff" stroke="#ff00ff" stroke-width="4.3"/>
<circle cx="575.3" cy="286.4" r="7.8" fill="#fff" stroke="#ff00ff" stroke-width="4.3"/>
<circle cx="556.7" cy="279.4" r="7.8" fill="#fff" stroke="#ff00ff" stroke-width="4.3"/>
<circle cx="538.1" cy="272.8" r="7.8" fill="#fff" stroke="#ff00ff" stroke-width="4.3"/>
<circle cx="519.5" cy="265.7" r="7.8" fill="#fff" stroke="#ff00ff" stroke-width="4.3"/>
<circle cx="500.9" cy="258.9" r="7.8" fill="#fff" stroke="#ff00ff" stroke-width="4.3"/>
<circle cx="482.3" cy="252.8" r="7.8" fill="#fff" stroke="#ff00ff" stroke-width="4.3"/>
<circle cx="463.7" cy="246.2" r="7.8" fill="#fff" stroke="#ff00ff" stroke-width="4.3"/>
<circle cx="445.1" cy="240.1" r="7.8" fill="#fff" stroke="#ff00ff" stroke-width="4.3"/>
<circle cx="426.5" cy="235.1" r="7.8" fill="#fff" stroke="#ff00ff" stroke-width="4.3"/>
<circle cx="407.9" cy="229.9" r="7.8" fill="#fff" stroke="#ff00ff" stroke-width="4.3"/>
<circle cx="389.3" cy="224.7" r="7.8" fill="#fff" stroke="#ff00ff" stroke-width="4.3"/>
<circle cx="370.7" cy="219.5" r="7.8" fill="#fff" stroke="#ff00ff" stroke-width="4.3"/>
<circle cx="352.1" cy="214.8" r="7.8" fill="#fff" stroke="#ff00ff" stroke-width="4.3"/>
<circle cx="333.5" cy="210.1" r="7.8" fill="#fff" stroke="#ff00ff" stroke-width="4.3"/>
<circle cx="314.9" cy="204.9" r="7.8" fill="#fff" stroke="#ff00ff" stroke-width="4.3"/>
<circle cx="296.3" cy="200.1" r="7.8" fill="#fff" stroke="#ff00ff" stroke-width="4.3"/>
<circle cx="277.7" cy="196.5" r="7.8" fill="#fff" stroke="#ff00ff" stroke-width="4.3"/>
<circle cx="272.6" cy="190.4" r="7.8" fill="#fff" stroke="#ff00ff" stroke-width="4.3"/>
<circle cx="296.4" cy="195" r="7.8" fill="#fff" stroke="#ff00ff" stroke-width="4.3"/>
<circle cx="313.1" cy="199.3" r="7.8" fill="#fff" stroke="#ff00ff" stroke-width="4.3"/>
<circle cx="329.4" cy="203.9" r="7.8" fill="#fff" stroke="#ff00ff" stroke-width="4.3"/>
<circle cx="347.8" cy="208.6" r="7.8" fill="#fff" stroke="#ff00ff" stroke-width="4.3"/>
<circle cx="366.4" cy="213.2" r="7.8" fill="#fff" stroke="#ff00ff" stroke-width="4.3"/>
<circle cx="384.6" cy="218.2" r="7.8" fill="#fff" stroke="#ff00ff" stroke-width="4.3"/>
<circle cx="403.1" cy="223.4" r="7.8" fill="#fff" stroke="#ff00ff" stroke-width="4.3"/>
<circle cx="421.7" cy="228.6" r="7.8" fill="#fff" stroke="#ff00ff" stroke-width="4.3"/>
<circle cx="440.8" cy="233.6" r="7.8" fill="#fff" stroke="#ff00ff" stroke-width="4.3"/>
<circle cx="459.7" cy="239.2" r="7.8" fill="#fff" stroke="#ff00ff" stroke-width="4.3"/>
<circle cx="479.2" cy="245.3" r="7.8" fill="#fff" stroke="#ff00ff" stroke-width="4.3"/>
<circle cx="496.9" cy="250.3" r="7.8" fill="#fff" stroke="#ff00ff" stroke-width="4.3"/>
<circle cx="516.4" cy="256.5" r="7.8" fill="#fff" stroke="#ff00ff" stroke-width="4.3"/>
<circle cx="534.9" cy="262.8" r="7.8" fill="#fff" stroke="#ff00ff" stroke-width="4.3"/>
<circle cx="554.4" cy="268.9" r="7.8" fill="#fff" stroke="#ff00ff" stroke-width="4.3"/>
<circle cx="572.6" cy="275" r="7.8" fill="#fff" stroke="#ff00ff" stroke-width="4.3"/>
<circle cx="591.5" cy="281" r="7.8" fill="#fff" stroke="#ff00ff" stroke-width="4.3"/>
<circle cx="609" cy="288.3" r="7.8" fill="#fff" stroke="#ff00ff" stroke-width="4.3"/>
<circle cx="629" cy="294.8" r="7.8" fill="#fff" stroke="#ff00ff" stroke-width="4.3"/>
<circle cx="647.3" cy="302" r="7.8" fill="#fff" stroke="#ff00ff" stroke-width="4.3"/>
<circle cx="671.5" cy="310.8" r="7.8" fill="#fff" stroke="#ff00ff" stroke-width="4.3"/>
<circle cx="688.2" cy="316.9" r="7.8" fill="#fff" stroke="#ff00ff" stroke-width="4.3"/>
<circle cx="704.9" cy="324" r="7.8" fill="#fff" stroke="#ff00ff" stroke-width="4.3"/>
<circle cx="723.4" cy="330.9" r="7.8" fill="#fff" stroke="#ff00ff" stroke-width="4.3"/>
<circle cx="742" cy="338.3" r="7.8" fill="#fff" stroke="#ff00ff" stroke-width="4.3"/>
<circle cx="761.1" cy="346.1" r="7.8" fill="#fff" stroke="#ff00ff" stroke-width="4.3"/>
<circle cx="779.1" cy="354.4" r="7.8" fill="#fff" stroke="#ff00ff" stroke-width="4.3"/>
<circle cx="798.6" cy="361.9" r="7.8" fill="#fff" stroke="#ff00ff" stroke-width="4.3"/>
<circle cx="816.8" cy="370.8" r="7.8" fill="#fff" stroke="#ff00ff" stroke-width="4.3"/>
<circle cx="835.4" cy="379.7" r="7.8" fill="#fff" stroke="#ff00ff" stroke-width="4.3"/>
<circle cx="854.3" cy="389" r="7.8" fill="#fff" stroke="#ff00ff" stroke-width="4.3"/>
<circle cx="872.8" cy="398.6" r="7.8" fill="#fff" stroke="#ff00ff" stroke-width="4.3"/>
<circle cx="891.4" cy="408.3" r="7.8" fill="#fff" stroke="#ff00ff" stroke-width="4.3"/>
<circle cx="910.5" cy="419" r="7.8" fill="#fff" stroke="#ff00ff" stroke-width="4.3"/>
<circle cx="929.2" cy="431.1" r="7.8" fill="#fff" stroke="#ff00ff" stroke-width="4.3"/>
<circle cx="946.8" cy="442.4" r="7.8" fill="#fff" stroke="#ff00ff" stroke-width="4.3"/>
<circle cx="967.5" cy="455.9" r="7.8" fill="#fff" stroke="#ff00ff" stroke-width="4.3"/>
<circle cx="986" cy="468.6" r="7.8" fill="#fff" stroke="#ff00ff" stroke-width="4.3"/>
<circle cx="1004.3" cy="484.8" r="7.8" fill="#fff" stroke="#ff00ff" stroke-width="4.3"/>
<circle cx="1022.9" cy="500.6" r="7.8" fill="#fff" stroke="#ff00ff" stroke-width="4.3"/>
<circle cx="1042" cy="520" r="7.8" fill="#fff" stroke="#ff00ff" stroke-width="4.3"/>
<circle cx="1064.3" cy="547" r="7.8" fill="#fff" stroke="#ff00ff" stroke-width="4.3"/>
<circle cx="1081" cy="570.2" r="7.8" fill="#fff" stroke="#ff00ff" stroke-width="4.3"/>
<circle cx="1097.7" cy="597.1" r="7.8" fill="#fff" stroke="#ff00ff" stroke-width="4.3"/>
<circle cx="1117" cy="628.5" r="7.8" fill="#fff" stroke="#ff00ff" stroke-width="4.3"/>
<circle cx="1137" cy="655.4" r="7.8" fill="#fff" stroke="#ff00ff" stroke-width="4.3"/>
<circle cx="1155" cy="682.2" r="7.8" fill="#fff" stroke="#ff00ff" stroke-width="4.3"/>
<circle cx="1174.5" cy="704.5" r="7.8" fill="#fff" stroke="#ff00ff" stroke-width="4.3"/>
<circle cx="1193" cy="724.9" r="7.8" fill="#fff" stroke="#ff00ff" stroke-width="4.3"/>
<circle cx="1211.6" cy="748.1" r="7.8" fill="#fff" stroke="#ff00ff" stroke-width="4.3"/>
<circle cx="1231.1" cy="768.5" r="7.8" fill="#fff" stroke="#ff00ff" stroke-width="4.3"/>
<circle cx="1248.7" cy="791.7" r="7.8" fill="#fff" stroke="#ff00ff" stroke-width="4.3"/>
<circle cx="1269.1" cy="815.8" r="7.8" fill="#fff" stroke="#ff00ff" stroke-width="4.3"/>
<circle cx="1286.8" cy="840.9" r="7.8" fill="#fff" stroke="#ff00ff" stroke-width="4.3"/>
<circle cx="1305.3" cy="865.9" r="7.8" fill="#fff" stroke="#ff00ff" stroke-width="4.3"/>
<circle cx="1324" cy="893.4" r="7.8" fill="#fff" stroke="#ff00ff" stroke-width="4.3"/>
<circle cx="1342.6" cy="920.8" r="7.8" fill="#fff" stroke="#ff00ff" stroke-width="4.3"/>
<circle cx="1361" cy="947.7" r="7.8" fill="#fff" stroke="#ff00ff" stroke-width="4.3"/>
<circle cx="1379.9" cy="977.4" r="7.8" fill="#fff" stroke="#ff00ff" stroke-width="4.3"/>
<circle cx="1399" cy="1007.1" r="7.8" fill="#fff" stroke="#ff00ff" stroke-width="4.3"/>
<circle cx="1418.5" cy="1038.7" r="7.8" fill="#fff" stroke="#ff00ff" stroke-width="4.3"/>
<circle cx="1441.2" cy="1076.8" r="7.8" fill="#fff" stroke="#ff00ff" stroke-width="4.3"/>
<circle cx="1457.9" cy="1104.6" r="7.8" fill="#fff" stroke="#ff00ff" stroke-width="4.3"/>
<circle cx="1474.2" cy="1131.5" r="7.8" fill="#fff" stroke="#ff00ff" stroke-width="4.3"/>
<circle cx="1496.9" cy="1168.7" r="7.8" fill="#fff" stroke="#ff00ff" stroke-width="4.3"/>
<circle cx="1517.4" cy="1200.7" r="7.8" fill="#fff" stroke="#ff00ff" stroke-width="4.3"/>
<circle cx="1534.4" cy="1225.8" r="7.8" fill="#fff" stroke="#ff00ff" stroke-width="4.3"/>
<circle cx="1550.4" cy="1248.6" r="7.8" fill="#fff" stroke="#ff00ff" stroke-width="4.3"/>
<circle cx="1569" cy="1273.6" r="7.8" fill="#fff" stroke="#ff00ff" stroke-width="4.3"/>
<circle cx="1587.5" cy="1295.9" r="7.8" fill="#fff" stroke="#ff00ff" stroke-width="4.3"/>
<circle cx="1606" cy="1316" r="7.8" fill="#fff" stroke="#ff00ff" stroke-width="4.3"/>
<circle cx="1624.5" cy="1335.1" r="7.8" fill="#fff" stroke="#ff00ff" stroke-width="4.3"/>
<circle cx="1643.4" cy="1351.3" r="7.8" fill="#fff" stroke="#ff00ff" stroke-width="4.3"/>
<circle cx="1662" cy="1366.8" r="7.8" fill="#fff" stroke="#ff00ff" stroke-width="4.3"/>
<circle cx="1680.7" cy="1380.3" r="7.8" fill="#fff" stroke="#ff00ff" stroke-width="4.3"/>
<circle cx="1700.2" cy="1392" r="7.8" fill="#fff" stroke="#ff00ff" stroke-width="4.3"/>
<circle cx="1718.3" cy="1402.4" r="7.8" fill="#fff" stroke="#ff00ff" stroke-width="4.3"/>
<circle cx="1738.2" cy="1411.7" r="7.8" fill="#fff" stroke="#ff00ff" stroke-width="4.3"/>
<circle cx="1755.9" cy="1420" r="7.8" fill="#fff" stroke="#ff00ff" stroke-width="4.3"/>
<circle cx="1774.4" cy="1427.4" r="7.8" fill="#fff" stroke="#ff00ff" stroke-width="4.3"/>
<circle cx="1793" cy="1433.6" r="7.8" fill="#fff" stroke="#ff00ff" stroke-width="4.3"/>
<circle cx="1816.2" cy="1442" r="7.8" fill="#fff" stroke="#ff00ff" stroke-width="4.3"/>
<circle cx="1837.6" cy="1447.6" r="7.8" fill="#fff" stroke="#ff00ff" stroke-width="4.3"/>
<circle cx="1858" cy="1452.2" r="7.8" fill="#fff" stroke="#ff00ff" stroke-width="4.3"/>
<circle cx="1873.8" cy="1456.5" r="7.8" fill="#fff" stroke="#ff00ff" stroke-width="4.3"/>
<circle cx="1890.5" cy="1460" r="7.8" fill="#fff" stroke="#ff00ff" stroke-width="4.3"/>
<circle cx="1906.3" cy="1463.3" r="7.8" fill="#fff" stroke="#ff00ff" stroke-width="4.3"/>
<circle cx="1924.8" cy="1466.5" r="7.8" fill="#fff" stroke="#ff00ff" stroke-width="4.3"/>
<circle cx="1943.4" cy="1469.8" r="7.8" fill="#fff" stroke="#ff00ff" stroke-width="4.3"/>
<circle cx="1954.5" cy="1474.1" r="7.8" fill="#fff" stroke="#ff00ff" stroke-width="4.3"/>
</g>
<g clip-path="url(#ci)">
<path d="M1708.3 467.7L1866.9 446.6M1894.8 443.8L2053.4 432.5M2081.4 430.7L2239 421.8" stroke="#ff0000" stroke-width="5" stroke-linecap="round" fill="none"/>
<path d="M1333 640.4l11.8 20.4h-23.6zM1336 638.4l11.8 20.4h-23.6zM1339 636.4l11.8 20.4h-23.6zM1342 634.4l11.8 20.4h-23.6zM1345 632.4l11.8 20.4h-23.6zM1348 630.4l11.8 20.4h-23.6zM1351 628.4l11.8 20.4h-23.6zM1354 626.5l11.8 20.4h-23.6zM1357 624.5l11.8 20.4h-23.6zM1362 621.1l11.8 20.4h-23.6zM1369.4 616l11.8 20.4h-23.6zM1376.9 610.9l11.8 20.4h-23.6zM1384.3 604.7l11.8 20.4h-23.6zM1391.8 596.7l11.8 20.4h-23.6zM1399.2 588.6l11.8 20.4h-23.6zM1406.6 580.5l11.8 20.4h-23.6zM1414.1 572.3l11.8 20.4h-23.6zM1421.5 563.6l11.8 20.4h-23.6zM1429 555.6l11.8 20.4h-23.6zM1436.4 548.6l11.8 20.4h-23.6zM1443.8 542l11.8 20.4h-23.6zM1451.3 536.1l11.8 20.4h-23.6zM1458.7 530.5l11.8 20.4h-23.6zM1466.2 525.4l11.8 20.4h-23.6zM1473.6 520.7l11.8 20.4h-23.6zM1481 516.6l11.8 20.4h-23.6zM1488.5 512.6l11.8 20.4h-23.6zM1495.9 508.6l11.8 20.4h-23.6zM1503.4 504.5l11.8 20.4h-23.6zM1510.8 501.7l11.8 20.4h-23.6zM1518.2 499.1l11.8 20.4h-23.6zM1525.7 496.4l11.8 20.4h-23.6zM1533.1 493.9l11.8 20.4h-23.6zM1540.6 491.6l11.8 20.4h-23.6zM1548 489.3l11.8 20.4h-23.6zM1555.4 487l11.8 20.4h-23.6zM1562.9 484.8l11.8 20.4h-23.6zM1570.3 483l11.8 20.4h-23.6zM1577.8 481.1l11.8 20.4h-23.6zM1585.2 479.2l11.8 20.4h-23.6zM1592.6 477.4l11.8 20.4h-23.6zM1600.1 475.7l11.8 20.4h-23.6zM1607.5 474.2l11.8 20.4h-23.6zM1615 472.7l11.8 20.4h-23.6zM1622.4 471.2l11.8 20.4h-23.6zM1629.8 469.7l11.8 20.4h-23.6zM1637.3 468.2l11.8 20.4h-23.6zM1644.7 466.7l11.8 20.4h-23.6zM1652.2 465.2l11.8 20.4h-23.6zM1659.6 463.7l11.8 20.4h-23.6zM1667 462.2l11.8 20.4h-23.6zM1674.5 460.6l11.8 20.4h-23.6zM1681.9 458.8l11.8 20.4h-23.6zM1689.4 457.1l11.8 20.4h-23.6zM1694.4 455.9l11.8 20.4h-23.6zM1880.8 431.2l11.8 20.4h-23.6zM2067.4 417.9l11.8 20.4h-23.6zM2253 407.4l11.8 20.4h-23.6z" fill="#ff0000"/>
<path d="M1708.4 391.3L1866.8 385.9M1894.8 385.2L2053.4 382.6M2081.4 382.3L2239 380.6" stroke="#0000ff" stroke-width="5.6" stroke-linecap="round" fill="none"/>
<circle cx="1327" cy="652" r="9.8" fill="#0000ff"/>
<circle cx="1327.7" cy="649" r="9.8" fill="#0000ff"/>
<circle cx="1328.3" cy="646" r="9.8" fill="#0000ff"/>
<circle cx="1329" cy="643" r="9.8" fill="#0000ff"/>
<circle cx="1329.7" cy="640" r="9.8" fill="#0000ff"/>
<circle cx="1330.4" cy="637" r="9.8" fill="#0000ff"/>
<circle cx="1331.2" cy="634" r="9.8" fill="#0000ff"/>
<circle cx="1331.9" cy="631" r="9.8" fill="#0000ff"/>
<circle cx="1332.7" cy="628" r="9.8" fill="#0000ff"/>
<circle cx="1333.4" cy="625" r="9.8" fill="#0000ff"/>
<circle cx="1334.1" cy="622" r="9.8" fill="#0000ff"/>
<circle cx="1334.9" cy="619" r="9.8" fill="#0000ff"/>
<circle cx="1335.6" cy="616" r="9.8" fill="#0000ff"/>
<circle cx="1336.4" cy="613" r="9.8" fill="#0000ff"/>
<circle cx="1337.1" cy="610" r="9.8" fill="#0000ff"/>
<circle cx="1337.9" cy="607" r="9.8" fill="#0000ff"/>
<circle cx="1338.7" cy="604" r="9.8" fill="#0000ff"/>
<circle cx="1339.5" cy="601" r="9.8" fill="#0000ff"/>
<circle cx="1340.3" cy="598" r="9.8" fill="#0000ff"/>
<circle cx="1341.1" cy="595" r="9.8" fill="#0000ff"/>
<circle cx="1341.9" cy="592" r="9.8" fill="#0000ff"/>
<circle cx="1342.7" cy="589" r="9.8" fill="#0000ff"/>
<circle cx="1343.5" cy="586" r="9.8" fill="#0000ff"/>
<circle cx="1344.3" cy="583" r="9.8" fill="#0000ff"/>
<circle cx="1345.1" cy="580" r="9.8" fill="#0000ff"/>
<circle cx="1345.9" cy="577" r="9.8" fill="#0000ff"/>
<circle cx="1346.7" cy="574" r="9.8" fill="#0000ff"/>
<circle cx="1347.5" cy="571" r="9.8" fill="#0000ff"/>
<circle cx="1348.3" cy="568" r="9.8" fill="#0000ff"/>
<circle cx="1349.2" cy="565" r="9.8" fill="#0000ff"/>
<circle cx="1350.1" cy="562" r="9.8" fill="#0000ff"/>
<circle cx="1351" cy="559" r="9.8" fill="#0000ff"/>
<circle cx="1351.9" cy="556" r="9.8" fill="#0000ff"/>
<circle cx="1352.8" cy="553" r="9.8" fill="#0000ff"/>
<circle cx="1353.7" cy="550" r="9.8" fill="#0000ff"/>
<circle cx="1354.5" cy="547" r="9.8" fill="#0000ff"/>
<circle cx="1355.4" cy="544" r="9.8" fill="#0000ff"/>
<circle cx="1356.3" cy="541" r="9.8" fill="#0000ff"/>
<circle cx="1357.2" cy="538" r="9.8" fill="#0000ff"/>
<circle cx="1358.1" cy="535" r="9.8" fill="#0000ff"/>
<circle cx="1359" cy="532" r="9.8" fill="#0000ff"/>
<circle cx="1366.3" cy="506.4" r="9.8" fill="#0000ff"/>
<circle cx="1373.9" cy="490.3" r="9.8" fill="#0000ff"/>
<circle cx="1380.7" cy="479.1" r="9.8" fill="#0000ff"/>
<circle cx="1384.4" cy="473.8" r="9.8" fill="#0000ff"/>
<circle cx="1388.1" cy="468.8" r="9.8" fill="#0000ff"/>
<circle cx="1391.9" cy="464.6" r="9.8" fill="#0000ff"/>
<circle cx="1395.6" cy="460.7" r="9.8" fill="#0000ff"/>
<circle cx="1399.3" cy="457.4" r="9.8" fill="#0000ff"/>
<circle cx="1403" cy="454.1" r="9.8" fill="#0000ff"/>
<circle cx="1406.7" cy="450.8" r="9.8" fill="#0000ff"/>
<circle cx="1410.5" cy="447.4" r="9.8" fill="#0000ff"/>
<circle cx="1414.2" cy="445.1" r="9.8" fill="#0000ff"/>
<circle cx="1417.9" cy="443.2" r="9.8" fill="#0000ff"/>
<circle cx="1421.6" cy="441.2" r="9.8" fill="#0000ff"/>
<circle cx="1425.3" cy="439.3" r="9.8" fill="#0000ff"/>
<circle cx="1429.1" cy="437.3" r="9.8" fill="#0000ff"/>
<circle cx="1432.8" cy="435.4" r="9.8" fill="#0000ff"/>
<circle cx="1436.5" cy="433.4" r="9.8" fill="#0000ff"/>
<circle cx="1440.2" cy="431.5" r="9.8" fill="#0000ff"/>
<circle cx="1443.9" cy="429.5" r="9.8" fill="#0000ff"/>
<circle cx="1447.7" cy="427.5" r="9.8" fill="#0000ff"/>
<circle cx="1451.4" cy="426.1" r="9.8" fill="#0000ff"/>
<circle cx="1455.1" cy="424.8" r="9.8" fill="#0000ff"/>
<circle cx="1458.8" cy="423.5" r="9.8" fill="#0000ff"/>
<circle cx="1462.5" cy="422.2" r="9.8" fill="#0000ff"/>
<circle cx="1466.3" cy="420.9" r="9.8" fill="#0000ff"/>
<circle cx="1470" cy="419.6" r="9.8" fill="#0000ff"/>
<circle cx="1473.7" cy="418.3" r="9.8" fill="#0000ff"/>
<circle cx="1477.4" cy="417" r="9.8" fill="#0000ff"/>
<circle cx="1481.1" cy="415.8" r="9.8" fill="#0000ff"/>
<circle cx="1484.9" cy="414.5" r="9.8" fill="#0000ff"/>
<circle cx="1488.6" cy="413.5" r="9.8" fill="#0000ff"/>
<circle cx="1492.3" cy="412.7" r="9.8" fill="#0000ff"/>
<circle cx="1496" cy="411.8" r="9.8" fill="#0000ff"/>
<circle cx="1499.7" cy="411" r="9.8" fill="#0000ff"/>
<circle cx="1503.5" cy="410.2" r="9.8" fill="#0000ff"/>
<circle cx="1507.2" cy="409.3" r="9.8" fill="#0000ff"/>
<circle cx="1510.9" cy="408.5" r="9.8" fill="#0000ff"/>
<circle cx="1514.6" cy="407.6" r="9.8" fill="#0000ff"/>
<circle cx="1518.3" cy="406.8" r="9.8" fill="#0000ff"/>
<circle cx="1522.1" cy="405.9" r="9.8" fill="#0000ff"/>
<circle cx="1525.8" cy="405.3" r="9.8" fill="#0000ff"/>
<circle cx="1529.5" cy="404.8" r="9.8" fill="#0000ff"/>
<circle cx="1533.2" cy="404.2" r="9.8" fill="#0000ff"/>
<circle cx="1536.9" cy="403.7" r="9.8" fill="#0000ff"/>
<circle cx="1540.7" cy="403.1" r="9.8" fill="#0000ff"/>
<circle cx="1544.4" cy="402.5" r="9.8" fill="#0000ff"/>
<circle cx="1548.1" cy="402" r="9.8" fill="#0000ff"/>
<circle cx="1551.8" cy="401.4" r="9.8" fill="#0000ff"/>
<circle cx="1555.5" cy="400.9" r="9.8" fill="#0000ff"/>
<circle cx="1559.3" cy="400.3" r="9.8" fill="#0000ff"/>
<circle cx="1563" cy="399.9" r="9.8" fill="#0000ff"/>
<circle cx="1566.7" cy="399.5" r="9.8" fill="#0000ff"/>
<circle cx="1570.4" cy="399.2" r="9.8" fill="#0000ff"/>
<circle cx="1574.1" cy="398.8" r="9.8" fill="#0000ff"/>
<circle cx="1577.9" cy="398.4" r="9.8" fill="#0000ff"/>
<circle cx="1581.6" cy="398" r="9.8" fill="#0000ff"/>
<circle cx="1585.3" cy="397.7" r="9.8" fill="#0000ff"/>
<circle cx="1589" cy="397.3" r="9.8" fill="#0000ff"/>
<circle cx="1592.7" cy="396.9" r="9.8" fill="#0000ff"/>
<circle cx="1596.5" cy="396.6" r="9.8" fill="#0000ff"/>
<circle cx="1600.2" cy="396.3" r="9.8" fill="#0000ff"/>
<circle cx="1603.9" cy="396.1" r="9.8" fill="#0000ff"/>
<circle cx="1607.6" cy="395.9" r="9.8" fill="#0000ff"/>
<circle cx="1611.3" cy="395.6" r="9.8" fill="#0000ff"/>
<circle cx="1615.1" cy="395.4" r="9.8" fill="#0000ff"/>
<circle cx="1618.8" cy="395.2" r="9.8" fill="#0000ff"/>
<circle cx="1622.5" cy="395" r="9.8" fill="#0000ff"/>
<circle cx="1626.2" cy="394.8" r="9.8" fill="#0000ff"/>
<circle cx="1629.9" cy="394.5" r="9.8" fill="#0000ff"/>
<circle cx="1633.7" cy="394.3" r="9.8" fill="#0000ff"/>
<circle cx="1637.4" cy="394.2" r="9.8" fill="#0000ff"/>
<circle cx="1641.1" cy="394" r="9.8" fill="#0000ff"/>
<circle cx="1644.8" cy="393.9" r="9.8" fill="#0000ff"/>
<circle cx="1648.5" cy="393.7" r="9.8" fill="#0000ff"/>
<circle cx="1652.3" cy="393.6" r="9.8" fill="#0000ff"/>
<circle cx="1656" cy="393.4" r="9.8" fill="#0000ff"/>
<circle cx="1659.7" cy="393.3" r="9.8" fill="#0000ff"/>
<circle cx="1663.4" cy="393.1" r="9.8" fill="#0000ff"/>
<circle cx="1667.1" cy="393" r="9.8" fill="#0000ff"/>
<circle cx="1670.9" cy="392.8" r="9.8" fill="#0000ff"/>
<circle cx="1674.6" cy="392.7" r="9.8" fill="#0000ff"/>
<circle cx="1678.3" cy="392.5" r="9.8" fill="#0000ff"/>
<circle cx="1682" cy="392.3" r="9.8" fill="#0000ff"/>
<circle cx="1685.7" cy="392.2" r="9.8" fill="#0000ff"/>
<circle cx="1689.5" cy="392" r="9.8" fill="#0000ff"/>
<circle cx="1693.2" cy="391.9" r="9.8" fill="#0000ff"/>
<circle cx="1694.4" cy="391.8" r="9.8" fill="#0000ff"/>
<circle cx="1880.8" cy="385.4" r="9.8" fill="#0000ff"/>
<circle cx="2067.4" cy="382.4" r="9.8" fill="#0000ff"/>
<circle cx="2253" cy="380.5" r="9.8" fill="#0000ff"/>
<path d="M1368.9 279.7L1373.6 265.3M1384.4 239.6L1389.3 230.3M1404 206.7L1406 204M1707.3 103.6L1866.8 94.9M1894.8 93.6L2053.4 88M2081.4 87.2L2239 83.8" stroke="#008700" stroke-width="6.5" stroke-linecap="round" fill="none"/>
<path d="M1324.2 468.3h17.4v17.4h-17.4zM1324.6 461.3h17.4v17.4h-17.4zM1325.1 454.3h17.4v17.4h-17.4zM1326 446.3h17.4v17.4h-17.4zM1326.9 437.3h17.4v17.4h-17.4zM1327.9 428.3h17.4v17.4h-17.4zM1328.8 417.3h17.4v17.4h-17.4zM1329.7 406.3h17.4v17.4h-17.4zM1331.1 395.3h17.4v17.4h-17.4zM1332.5 384.3h17.4v17.4h-17.4zM1335.3 374.3h17.4v17.4h-17.4zM1338.8 364.3h17.4v17.4h-17.4zM1341.9 348.3h17.4v17.4h-17.4zM1344.3 335.3h17.4v17.4h-17.4zM1346.7 323.3h17.4v17.4h-17.4zM1349.5 309.3h17.4v17.4h-17.4zM1352.8 296.3h17.4v17.4h-17.4zM1355.8 284.3h17.4v17.4h-17.4zM1369.3 243.3h17.4v17.4h-17.4zM1387 209.2h17.4v17.4h-17.4zM1405.6 184.1h17.4v17.4h-17.4zM1424.2 165.5h17.4v17.4h-17.4zM1442.8 151.3h17.4v17.4h-17.4zM1461.4 140.9h17.4v17.4h-17.4zM1480 131.9h17.4v17.4h-17.4zM1498.6 125.1h17.4v17.4h-17.4zM1517.2 119.7h17.4v17.4h-17.4zM1535.8 114.9h17.4v17.4h-17.4zM1554.4 110.8h17.4v17.4h-17.4zM1573 107.8h17.4v17.4h-17.4zM1591.6 105h17.4v17.4h-17.4zM1610.2 102.6h17.4v17.4h-17.4zM1628.8 100.4h17.4v17.4h-17.4zM1647.4 98.7h17.4v17.4h-17.4zM1666 97.2h17.4v17.4h-17.4zM1684.6 95.7h17.4v17.4h-17.4zM1872.1 85.4h17.4v17.4h-17.4zM2058.7 78.8h17.4v17.4h-17.4zM2244.3 74.8h17.4v17.4h-17.4z" fill="#008700"/>
<path d="M1333.4 586L1334 570M1334.9 542L1335.8 510.2M1337.1 482.2L1337.7 473.6M1707.3 119.4L1866.8 111.3M1894.8 110.2L2053.4 105M2081.4 104.3L2239 100.8" stroke="#ff00ff" stroke-width="7" stroke-linecap="round" fill="none"/>
<circle cx="1327.3" cy="645" r="8.6" fill="#fff" stroke="#ff00ff" stroke-width="1.6"/>
<circle cx="1328.7" cy="636.9" r="8.6" fill="#fff" stroke="#ff00ff" stroke-width="1.6"/>
<circle cx="1331.5" cy="622.3" r="8.6" fill="#fff" stroke="#ff00ff" stroke-width="1.6"/>
<circle cx="1332.9" cy="600" r="8.6" fill="#fff" stroke="#ff00ff" stroke-width="1.6"/>
<circle cx="1334.5" cy="556" r="8.6" fill="#fff" stroke="#ff00ff" stroke-width="1.6"/>
<circle cx="1336.2" cy="496.2" r="8.6" fill="#fff" stroke="#ff00ff" stroke-width="1.6"/>
<circle cx="1338.6" cy="459.6" r="8.6" fill="#fff" stroke="#ff00ff" stroke-width="1.6"/>
<circle cx="1340.5" cy="433.1" r="8.6" fill="#fff" stroke="#ff00ff" stroke-width="1.6"/>
<circle cx="1341.8" cy="410.4" r="8.6" fill="#fff" stroke="#ff00ff" stroke-width="1.6"/>
<circle cx="1344.2" cy="390" r="8.6" fill="#fff" stroke="#ff00ff" stroke-width="1.6"/>
<circle cx="1345.5" cy="373.3" r="8.6" fill="#fff" stroke="#ff00ff" stroke-width="1.6"/>
<circle cx="1348.6" cy="357.5" r="8.6" fill="#fff" stroke="#ff00ff" stroke-width="1.6"/>
<circle cx="1351" cy="344.5" r="8.6" fill="#fff" stroke="#ff00ff" stroke-width="1.6"/>
<circle cx="1352.9" cy="334.3" r="8.6" fill="#fff" stroke="#ff00ff" stroke-width="1.6"/>
<circle cx="1354.8" cy="325.1" r="8.6" fill="#fff" stroke="#ff00ff" stroke-width="1.6"/>
<circle cx="1356.6" cy="315.8" r="8.6" fill="#fff" stroke="#ff00ff" stroke-width="1.6"/>
<circle cx="1358.5" cy="305.6" r="8.6" fill="#fff" stroke="#ff00ff" stroke-width="1.6"/>
<circle cx="1365.9" cy="280.9" r="8.6" fill="#fff" stroke="#ff00ff" stroke-width="1.6"/>
<circle cx="1373.4" cy="263.3" r="8.6" fill="#fff" stroke="#ff00ff" stroke-width="1.6"/>
<circle cx="1380.8" cy="248.2" r="8.6" fill="#fff" stroke="#ff00ff" stroke-width="1.6"/>
<circle cx="1388.3" cy="234.5" r="8.6" fill="#fff" stroke="#ff00ff" stroke-width="1.6"/>
<circle cx="1395.7" cy="222.7" r="8.6" fill="#fff" stroke="#ff00ff" stroke-width="1.6"/>
<circle cx="1403.1" cy="212.4" r="8.6" fill="#fff" stroke="#ff00ff" stroke-width="1.6"/>
<circle cx="1410.6" cy="204.9" r="8.6" fill="#fff" stroke="#ff00ff" stroke-width="1.6"/>
<circle cx="1418" cy="197.3" r="8.6" fill="#fff" stroke="#ff00ff" stroke-width="1.6"/>
<circle cx="1425.5" cy="190.7" r="8.6" fill="#fff" stroke="#ff00ff" stroke-width="1.6"/>
<circle cx="1432.9" cy="185.4" r="8.6" fill="#fff" stroke="#ff00ff" stroke-width="1.6"/>
<circle cx="1440.3" cy="179.7" r="8.6" fill="#fff" stroke="#ff00ff" stroke-width="1.6"/>
<circle cx="1447.8" cy="174.4" r="8.6" fill="#fff" stroke="#ff00ff" stroke-width="1.6"/>
<circle cx="1455.2" cy="170" r="8.6" fill="#fff" stroke="#ff00ff" stroke-width="1.6"/>
<circle cx="1462.7" cy="165.5" r="8.6" fill="#fff" stroke="#ff00ff" stroke-width="1.6"/>
<circle cx="1470.1" cy="161.4" r="8.6" fill="#fff" stroke="#ff00ff" stroke-width="1.6"/>
<circle cx="1477.5" cy="158.2" r="8.6" fill="#fff" stroke="#ff00ff" stroke-width="1.6"/>
<circle cx="1485" cy="155.1" r="8.6" fill="#fff" stroke="#ff00ff" stroke-width="1.6"/>
<circle cx="1492.4" cy="152.1" r="8.6" fill="#fff" stroke="#ff00ff" stroke-width="1.6"/>
<circle cx="1499.9" cy="149.2" r="8.6" fill="#fff" stroke="#ff00ff" stroke-width="1.6"/>
<circle cx="1507.3" cy="146.7" r="8.6" fill="#fff" stroke="#ff00ff" stroke-width="1.6"/>
<circle cx="1514.7" cy="144.6" r="8.6" fill="#fff" stroke="#ff00ff" stroke-width="1.6"/>
<circle cx="1522.2" cy="142.6" r="8.6" fill="#fff" stroke="#ff00ff" stroke-width="1.6"/>
<circle cx="1529.6" cy="141" r="8.6" fill="#fff" stroke="#ff00ff" stroke-width="1.6"/>
<circle cx="1537.1" cy="139.4" r="8.6" fill="#fff" stroke="#ff00ff" stroke-width="1.6"/>
<circle cx="1544.5" cy="137.5" r="8.6" fill="#fff" stroke="#ff00ff" stroke-width="1.6"/>
<circle cx="1551.9" cy="135.7" r="8.6" fill="#fff" stroke="#ff00ff" stroke-width="1.6"/>
<circle cx="1559.4" cy="134.2" r="8.6" fill="#fff" stroke="#ff00ff" stroke-width="1.6"/>
<circle cx="1566.8" cy="132.6" r="8.6" fill="#fff" stroke="#ff00ff" stroke-width="1.6"/>
<circle cx="1574.3" cy="131.4" r="8.6" fill="#fff" stroke="#ff00ff" stroke-width="1.6"/>
<circle cx="1581.7" cy="130.1" r="8.6" fill="#fff" stroke="#ff00ff" stroke-width="1.6"/>
<circle cx="1589.1" cy="129.2" r="8.6" fill="#fff" stroke="#ff00ff" stroke-width="1.6"/>
<circle cx="1596.6" cy="128.2" r="8.6" fill="#fff" stroke="#ff00ff" stroke-width="1.6"/>
<circle cx="1604" cy="127.2" r="8.6" fill="#fff" stroke="#ff00ff" stroke-width="1.6"/>
<circle cx="1611.5" cy="126" r="8.6" fill="#fff" stroke="#ff00ff" stroke-width="1.6"/>
<circle cx="1618.9" cy="125.1" r="8.6" fill="#fff" stroke="#ff00ff" stroke-width="1.6"/>
<circle cx="1626.3" cy="124.3" r="8.6" fill="#fff" stroke="#ff00ff" stroke-width="1.6"/>
<circle cx="1633.8" cy="123.6" r="8.6" fill="#fff" stroke="#ff00ff" stroke-width="1.6"/>
<circle cx="1641.2" cy="123" r="8.6" fill="#fff" stroke="#ff00ff" stroke-width="1.6"/>
<circle cx="1648.7" cy="122.4" r="8.6" fill="#fff" stroke="#ff00ff" stroke-width="1.6"/>
<circle cx="1656.1" cy="121.8" r="8.6" fill="#fff" stroke="#ff00ff" stroke-width="1.6"/>
<circle cx="1663.5" cy="121.3" r="8.6" fill="#fff" stroke="#ff00ff" stroke-width="1.6"/>
<circle cx="1671" cy="121" r="8.6" fill="#fff" stroke="#ff00ff" stroke-width="1.6"/>
<circle cx="1678.4" cy="120.7" r="8.6" fill="#fff" stroke="#ff00ff" stroke-width="1.6"/>
<circle cx="1685.9" cy="120.4" r="8.6" fill="#fff" stroke="#ff00ff" stroke-width="1.6"/>
<circle cx="1693.3" cy="120.1" r="8.6" fill="#fff" stroke="#ff00ff" stroke-width="1.6"/>
<circle cx="1880.8" cy="110.6" r="8.6" fill="#fff" stroke="#ff00ff" stroke-width="1.6"/>
<circle cx="2067.4" cy="104.6" r="8.6" fill="#fff" stroke="#ff00ff" stroke-width="1.6"/>
<circle cx="2253" cy="100.5" r="8.6" fill="#fff" stroke="#ff00ff" stroke-width="1.6"/>
</g>
<g stroke="#000" stroke-width="2" fill="none">
<path d="M1321.8 31V656.7M1320.8 655.7H2140"/>
<path d="M1322 491.8h11.5M1322 327.5h11.5M1322 163.2h11.5M1322 574h5.5M1322 409.7h5.5M1322 245.4h5.5M1322 81.1h5.5M1693.3 655.7v-11.8M2065.3 655.7v-11.8M1507.3 655.7v-5.8M1879.3 655.7v-5.8"/>
</g>
<g stroke="#000" stroke-width="5.3" fill="none" stroke-linecap="butt">
<path d="M263.8 26.1V1572.7M2142.5 26.1V1572.7M249.1 28.7H2145.2M234.1 1543.4H2145.2M263.8 1365.2H234.1M263.8 1187.1H234.1M263.8 1008.9H234.1M263.8 830.8H234.1M263.8 652.6H234.1M263.8 474.4H234.1M263.8 296.3H234.1M263.8 118.1H234.1M263.8 1454.3H249.1M263.8 1276.2H249.1M263.8 1098H249.1M263.8 919.8H249.1M263.8 741.7H249.1M263.8 563.5H249.1M263.8 385.3H249.1M263.8 207.2H249.1M639.5 1543.4V1572.7M1015.2 1543.4V1572.7M1391 1543.4V1572.7M1766.8 1543.4V1572.7M451.6 1543.4V1557.4M827.4 1543.4V1557.4M1203.1 1543.4V1557.4M1578.9 1543.4V1557.4M1954.6 1543.4V1557.4"/>
</g>
<g font-family="'Liberation Sans', Arial, Helvetica, sans-serif">
<text transform="translate(229.5 1565.9) scale(1 1.042)" font-size="78.0" font-weight="bold" text-anchor="end" fill="#000">0</text>
<text transform="translate(229.5 1387.7) scale(1 1.042)" font-size="78.0" font-weight="bold" text-anchor="end" fill="#000">10</text>
<text transform="translate(229.5 1209.6) scale(1 1.042)" font-size="78.0" font-weight="bold" text-anchor="end" fill="#000">20</text>
<text transform="translate(229.5 1031.4) scale(1 1.042)" font-size="78.0" font-weight="bold" text-anchor="end" fill="#000">30</text>
<text transform="translate(229.5 853.2) scale(1 1.042)" font-size="78.0" font-weight="bold" text-anchor="end" fill="#000">40</text>
<text transform="translate(229.5 675.1) scale(1 1.042)" font-size="78.0" font-weight="bold" text-anchor="end" fill="#000">50</text>
<text transform="translate(229.5 496.9) scale(1 1.042)" font-size="78.0" font-weight="bold" text-anchor="end" fill="#000">60</text>
<text transform="translate(229.5 318.8) scale(1 1.042)" font-size="78.0" font-weight="bold" text-anchor="end" fill="#000">70</text>
<text transform="translate(229.5 140.6) scale(1 1.042)" font-size="78.0" font-weight="bold" text-anchor="end" fill="#000">80</text>
<text transform="translate(259.2 1640.2) scale(1 1.042)" font-size="78.0" font-weight="bold" text-anchor="middle" fill="#000">300</text>
<text transform="translate(635 1640.2) scale(1 1.042)" font-size="78.0" font-weight="bold" text-anchor="middle" fill="#000">320</text>
<text transform="translate(1010.8 1640.2) scale(1 1.042)" font-size="78.0" font-weight="bold" text-anchor="middle" fill="#000">340</text>
<text transform="translate(1386.5 1640.2) scale(1 1.042)" font-size="78.0" font-weight="bold" text-anchor="middle" fill="#000">360</text>
<text transform="translate(1762.2 1640.2) scale(1 1.042)" font-size="78.0" font-weight="bold" text-anchor="middle" fill="#000">380</text>
<text transform="translate(2138 1640.2) scale(1 1.042)" font-size="78.0" font-weight="bold" text-anchor="middle" fill="#000">400</text>
<text transform="translate(1106 1734) scale(1 1.03)" font-size="85.5" font-weight="bold" text-anchor="start" fill="#000">T (K)</text>
<text transform="translate(115.6 971) rotate(-90) scale(1 1.045)" font-size="86.5" font-weight="bold" fill="#000">M (Am<tspan dy="-31" font-size="82">2</tspan><tspan dy="31">/kg)</tspan></text>
<text transform="translate(459.5 129.6)" font-size="70.5" font-weight="bold" text-anchor="start" fill="#009400">Ga-4h</text>
<text transform="translate(452.7 386.3)" font-size="70.5" font-weight="bold" text-anchor="start" fill="#ff00ff">Ga-8h</text>
<text transform="translate(444 852)" font-size="70.5" font-weight="bold" text-anchor="start" fill="#0000ff">Ga-1h</text>
<text transform="translate(435.4 1141.9)" font-size="70.5" font-weight="bold" text-anchor="start" fill="#ff0000">Ga-0h</text>
<text transform="translate(310.3 1442.6) scale(1 1.05)" font-size="78.3" font-weight="bold" text-anchor="start" fill="#000">0.5 T</text>
<text transform="translate(1522 953.4)" font-size="97" font-weight="bold" text-anchor="start" fill="#ff00ff">Af</text>
<text transform="translate(1312.4 666.6) scale(1 1.035)" font-size="68.3" font-weight="bold" text-anchor="end" fill="#000">0</text>
<text transform="translate(1312.4 501.6) scale(1 1.035)" font-size="68.3" font-weight="bold" text-anchor="end" fill="#000">25</text>
<text transform="translate(1312.4 338.1) scale(1 1.035)" font-size="68.3" font-weight="bold" text-anchor="end" fill="#000">50</text>
<text transform="translate(1312.4 173.9) scale(1 1.035)" font-size="68.3" font-weight="bold" text-anchor="end" fill="#000">75</text>
<text transform="translate(1342 720.7) scale(1 1.035)" font-size="68.3" font-weight="bold" text-anchor="middle" fill="#000">0</text>
<text transform="translate(1714.9 720.7) scale(1 1.035)" font-size="68.3" font-weight="bold" text-anchor="middle" fill="#000">1</text>
<text transform="translate(2084.6 720.7) scale(1 1.035)" font-size="68.3" font-weight="bold" text-anchor="middle" fill="#000">2</text>
<text transform="translate(1665.6 784) scale(1 1.02)" font-size="66.4" font-weight="bold" text-anchor="start" fill="#000">Field (T)</text>
<text transform="translate(1711.6 608.4) scale(1 1.035)" font-size="79" font-weight="normal" text-anchor="start" fill="#000">T = 300 K</text>
<text transform="translate(1213.4 517.5) rotate(-90)" font-size="67.5" font-weight="bold" fill="#000">M (Am<tspan dy="-28" font-size="45">2</tspan><tspan dy="28">/kg)</tspan></text>
</g>
<path d="M146.3 1378.1h14.7v11.1h-14.7zM171.7 1378.1h14v11.1h-14z" fill="#fff"/>
<path d="M564.7 843.7h13.3v9.8h-13.3zM587.7 843.7h12.7v9.8h-12.7z" fill="#fff"/>
<path d="M1699 712.4h12.8v9.8h-12.8zM1721.3 712.4h12.3v9.8h-12.3z" fill="#fff"/>
<path d="M299.2 104.3H365.8M391.8 104.3H461" stroke="#008700" stroke-width="5.4" stroke-linecap="round"/>
<path d="M369.9 95.3h17.8v17.8h-17.8z" fill="#008700"/>
<path d="M291.7 361H456" stroke="#ff00ff" stroke-width="11" stroke-linecap="round"/>
<circle cx="371.4" cy="361" r="7.8" fill="#fff" stroke="#ff00ff" stroke-width="4.3"/>
<path d="M281 826H446" stroke="#0000ff" stroke-width="7" stroke-linecap="round"/>
<circle cx="361.9" cy="826" r="10.1" fill="#0000ff"/>
<path d="M272.3 1115.9H435.6" stroke="#ff0000" stroke-width="2"/>
<path d="M342 1115.9H366" stroke="#fff" stroke-width="4"/>
<path d="M353.9 1102.3l11.8 20.4h-23.6z" fill="#ff0000"/>
<path d="M947.3 362.3L1245.6 818.7" stroke="#000" stroke-width="5.8" stroke-dasharray="6.1 5" fill="none"/>
<path d="M1055.7 577.1L1271.3 818.9" stroke="#000" stroke-width="5.8" stroke-dasharray="6.1 5" fill="none"/>
<line x1="663.1" y1="231.6" x2="765.1" y2="283.6" stroke="#000" stroke-width="7.6"/>
<path d="M798.5 300.6L761.1 291.4L769.1 275.8z" fill="#000" stroke="#000" stroke-width="6" stroke-linejoin="round"/>
<line x1="1518.3" y1="881.2" x2="1192.8" y2="691.3" stroke="#000" stroke-width="8.2"/>
<path d="M1146.5 664.3L1199 680.7L1186.6 701.9z" fill="#000" stroke="#000" stroke-width="6.4" stroke-linejoin="round"/>
<line x1="1480.2" y1="1262.5" x2="1440.7" y2="1204.1" stroke="#000" stroke-width="7.6"/>
<path d="M1419.7 1173.1L1447.9 1199.2L1433.5 1209z" fill="#000" stroke="#000" stroke-width="6" stroke-linejoin="round"/>
<line x1="1040.3" y1="997.6" x2="1105.9" y2="1045.3" stroke="#000" stroke-width="7.6"/>
<path d="M1136.3 1067.3L1100.8 1052.4L1111.1 1038.2z" fill="#000" stroke="#000" stroke-width="6" stroke-linejoin="round"/>
<line x1="965.7" y1="1087.9" x2="909.2" y2="1053.3" stroke="#000" stroke-width="7.6"/>
<path d="M877.3 1033.8L913.8 1045.9L904.7 1060.8z" fill="#000" stroke="#000" stroke-width="6" stroke-linejoin="round"/>
<line x1="807.9" y1="1166.6" x2="897.2" y2="1193" stroke="#000" stroke-width="7.6"/>
<path d="M933.1 1203.6L894.7 1201.4L899.6 1184.6z" fill="#000" stroke="#000" stroke-width="6" stroke-linejoin="round"/>
<line x1="757.8" y1="1262" x2="688.6" y2="1234.3" stroke="#000" stroke-width="7.6"/>
<path d="M653.8 1220.4L691.9 1226.2L685.4 1242.5z" fill="#000" stroke="#000" stroke-width="6" stroke-linejoin="round"/>
<path d="M25 458h3.2l-1.4 6.5h-1.8z" fill="#000"/>
</svg>
</body></html>
